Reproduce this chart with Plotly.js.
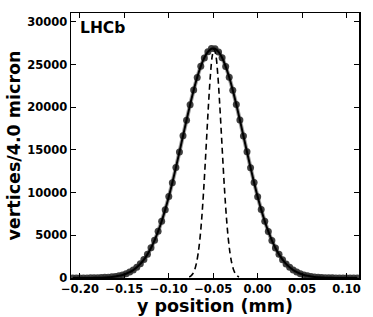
<!DOCTYPE html>
<html>
<head>
<meta charset="utf-8">
<script src="https://cdn.plot.ly/plotly-3.0.1.min.js"></script>
<style>html,body{margin:0;padding:0;background:#fff;}#plot{width:373px;height:317px;}</style>
</head>
<body>
<div id="plot"></div>
<script>
// Bin centres (mm), 4 micron bins
const binX = [-0.208,-0.204,-0.200,-0.196,-0.192,-0.188,-0.184,-0.180,-0.176,-0.172,
  -0.168,-0.164,-0.160,-0.156,-0.152,-0.148,-0.144,-0.140,-0.136,-0.132,
  -0.128,-0.124,-0.120,-0.116,-0.112,-0.108,-0.104,-0.100,-0.096,-0.092,
  -0.088,-0.084,-0.080,-0.076,-0.072,-0.068,-0.064,-0.060,-0.056,-0.052,
  -0.048,-0.044,-0.040,-0.036,-0.032,-0.028,-0.024,-0.020,-0.016,-0.012,
  -0.008,-0.004,0.000,0.004,0.008,0.012,0.016,0.020,0.024,0.028,
  0.032,0.036,0.040,0.044,0.048,0.052,0.056,0.060,0.064,0.068,
  0.072,0.076,0.080,0.084,0.088,0.092,0.096,0.100,0.104,0.108,0.112];
// Measured vertex counts per bin
const counts = [3,4,6,8,12,18,26,38,52,74,
  98,136,188,262,362,505,695,940,1262,1660,
  2160,2780,3530,4420,5470,6640,8010,9540,11150,12940,
  14760,16660,18490,20300,22020,23500,24810,25790,26520,26880,
  26850,26490,25820,24790,23520,21990,20330,18500,16640,14780,
  12920,11180,9510,8030,6640,5460,4400,3520,2770,2150,
  1650,1250,930,690,500,360,255,178,124,86,
  58,40,27,18,12,8,6,4,3,2,2];
// Fitted model (solid line)
const fitY = [1,1,2,4,6,10,16,24,37,56,
  83,122,177,253,358,499,686,931,1248,1649,
  2151,2768,3516,4408,5452,6655,8015,9526,11172,12931,
  14769,16645,18511,20316,22002,23514,24797,25806,26501,26855,
  26855,26501,25806,24797,23514,22002,20316,18511,16645,14769,
  12931,11172,9526,8015,6655,5452,4408,3516,2768,2151,
  1649,1248,931,686,499,358,253,177,122,83,
  56,37,24,16,10,6,4,2,1,1,0];
// Narrow component (dashed line)
const narrowX = [-0.077,-0.075,-0.073,-0.071,-0.069,-0.067,-0.065,-0.063,-0.061,-0.059,
  -0.057,-0.055,-0.053,-0.051,-0.049,-0.047,-0.045,-0.043,-0.041,-0.039,
  -0.037,-0.035,-0.033,-0.031,-0.029,-0.027,-0.025,-0.023,-0.021];
const narrowY = [118,249,498,941,1683,2847,4558,6903,9893,13414,
  17210,20890,23991,26068,26800,26068,23991,20890,17210,13414,
  9893,6903,4558,2847,1683,941,498,249,118];
const yTicks = [0, 5000, 10000, 15000, 20000, 25000, 30000];
const yTickText = ['0', '5000', '10000', '15000', '20000', '25000', '30000'];

const FONT = 'DejaVu Sans, sans-serif';
const traces = [
  {x: binX, y: fitY, mode: 'lines', line: {color: '#a0a0a0', width: 4, shape: 'spline'}, hoverinfo: 'skip'},
  {x: binX, y: counts, mode: 'markers', marker: {color: 'rgba(45,45,45,0.9)', size: 7, line: {width: 0}}},
  {x: binX, y: fitY, mode: 'lines', line: {color: '#000', width: 2, shape: 'spline'}},
  {x: narrowX, y: narrowY, mode: 'lines', line: {color: '#000', width: 1.6, dash: '6px,4px', shape: 'spline'}}
];
const layout = {
  width: 373, height: 317,
  margin: {l: 71, r: 14, t: 13, b: 39},
  showlegend: false,
  paper_bgcolor: '#fff', plot_bgcolor: '#fff',
  font: {family: FONT, color: '#000'},
  xaxis: {
    range: [-0.21, 0.114], tick0: 0, dtick: 0.05, tickformat: '.2f',
    ticks: 'inside', ticklen: 5, tickwidth: 1, tickcolor: '#000',
    showline: true, linewidth: 1.5, linecolor: '#000', mirror: 'ticks',
    showgrid: false, zeroline: false,
    tickfont: {family: FONT, size: 11.5, color: '#000', weight: 'bold'},
    title: {text: '<b>y position (mm)</b>', font: {family: FONT, size: 17.5, color: '#000'}, standoff: 1}
  },
  yaxis: {
    range: [0, 31050], tickmode: 'array', tickvals: yTicks, ticktext: yTickText,
    ticks: 'inside', ticklen: 5, tickwidth: 1, tickcolor: '#000',
    showline: true, linewidth: 1.5, linecolor: '#000', mirror: 'ticks',
    showgrid: false, zeroline: false,
    tickfont: {family: FONT, size: 11.5, color: '#000', weight: 'bold'},
    title: {text: '<b>vertices/4.0 micron</b>', font: {family: FONT, size: 17.5, color: '#000'}, standoff: 2}
  },
  annotations: [{
    xref: 'paper', yref: 'paper', x: 0.025, y: 0.985, xanchor: 'left', yanchor: 'top',
    text: '<b>LHCb</b>', showarrow: false, font: {family: FONT, size: 15.5, color: '#000'}
  }]
};
Plotly.newPlot('plot', traces, layout, {staticPlot: true, displayModeBar: false});
</script>
</body>
</html>
